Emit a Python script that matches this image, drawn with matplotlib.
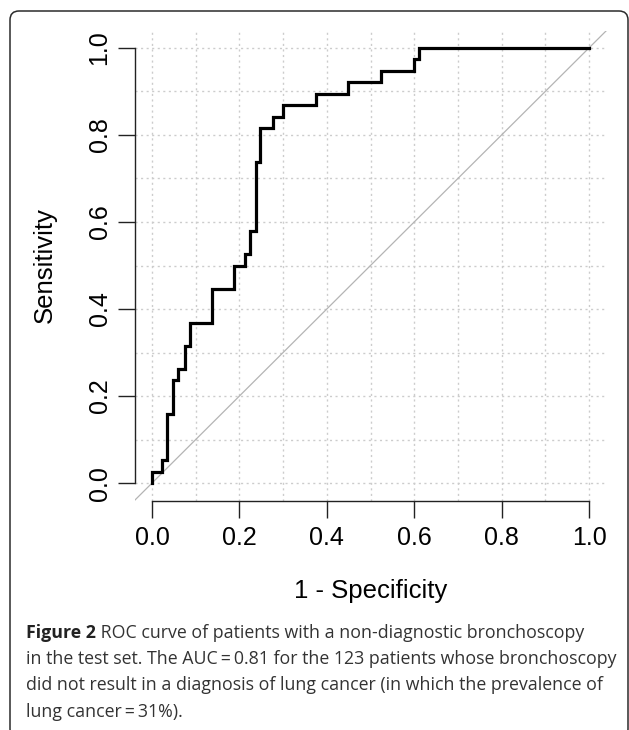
import matplotlib
matplotlib.use("Agg")
import matplotlib.pyplot as plt
from matplotlib.patches import FancyBboxPatch
from matplotlib.ticker import MultipleLocator

# ROC curve points (1 - specificity, sensitivity)
fpr = [0.0, 0.0, 0.0235, 0.0353, 0.047, 0.0588, 0.0755, 0.087, 0.137, 0.188,
       0.2128, 0.224, 0.238, 0.247, 0.276, 0.299, 0.375, 0.449, 0.524, 0.600,
       0.612, 1.0]
tpr = [0.0, 0.026, 0.053, 0.158, 0.237, 0.263, 0.316, 0.368, 0.447, 0.5,
       0.526, 0.579, 0.737, 0.816, 0.842, 0.868, 0.895, 0.921, 0.947, 0.974,
       1.0, 1.0]
ticks = [0.0, 0.2, 0.4, 0.6, 0.8, 1.0]
tick_labels = ["0.0", "0.2", "0.4", "0.6", "0.8", "1.0"]

caption_bold = "Figure 2"
caption_lines = [
    " ROC curve of patients with a non-diagnostic bronchoscopy",
    "in the test set. The AUC\u2009=\u20090.81 for the 123 patients whose bronchoscopy",
    "did not result in a diagnosis of lung cancer (in which the prevalence of",
    "lung cancer\u2009=\u200931%).",
]

W, H, DPI = 629, 730, 100
fig = plt.figure(figsize=(W / DPI, H / DPI), dpi=DPI)

# rounded frame around the whole figure
frame = FancyBboxPatch((10 / DPI, -8 / DPI), 618 / DPI, 727 / DPI,
                       boxstyle="round,pad=0,rounding_size=0.09",
                       transform=fig.dpi_scale_trans, fill=False,
                       edgecolor="#2b2b2b", linewidth=1.1)
fig.patches.append(frame)

ax = fig.add_axes([134.5 / W, (H - 500.5) / H, 472 / W, 470 / H])
ax.set_xlim(-0.04, 1.04)
ax.set_ylim(-0.04, 1.04)

ax.xaxis.set_minor_locator(MultipleLocator(0.1))
ax.yaxis.set_minor_locator(MultipleLocator(0.1))
ax.grid(which="both", color="#cccccc", linestyle=(0, (1.5, 2.5)), linewidth=1.0)
ax.set_axisbelow(True)

ax.axline((0, 0), (1, 1), color="#b4b4b4", linewidth=0.9, zorder=2)
ax.plot(fpr, tpr, drawstyle="steps-post", color="black", linewidth=2.3,
        solid_joinstyle="miter", zorder=3)

for side in ("top", "right"):
    ax.spines[side].set_visible(False)
for side in ("left", "bottom"):
    ax.spines[side].set_bounds(0, 1)
    ax.spines[side].set_linewidth(1.0)
    ax.spines[side].set_color("#222222")

font = "Liberation Sans"
ax.set_xticks(ticks)
ax.set_xticklabels(tick_labels, fontsize=18, family=font)
ax.set_yticks(ticks)
ax.set_yticklabels(tick_labels, fontsize=18, family=font, rotation=90, va="center")
ax.tick_params(which="major", length=12.5, width=1.0, color="#222222")
ax.tick_params(axis="x", pad=6)
ax.tick_params(axis="y", pad=4)
ax.tick_params(which="minor", length=0)

ax.set_xlabel("1 - Specificity", fontsize=18.5, family=font)
ax.xaxis.set_label_coords(0.5, -(591 - 500.5) / 470)
ax.xaxis.label.set_va("center")
ax.set_ylabel("Sensitivity", fontsize=18.5, family=font)
ax.yaxis.set_label_coords((45 - 134.5) / 472, 0.5)
ax.yaxis.label.set_va("center")

# caption, first word in bold; size chosen so the longest line spans ~588 px
cap_font = "Open Sans"
cap_color = "#333333"
line_y = [633, 659, 685, 712]
x_left, max_width = 26, 588
fig.canvas.draw()
renderer = fig.canvas.get_renderer()

probe = fig.text(0, 0, caption_lines[1], fontsize=10, family=cap_font)
cap_size = 10 * max_width / probe.get_window_extent(renderer).width
probe.remove()

t_bold = fig.text(x_left / W, 1 - line_y[0] / H, caption_bold, fontsize=cap_size,
                  family=cap_font, weight="bold", color="#222222", va="center")
bb = t_bold.get_window_extent(renderer)
fig.text(bb.x1 / W, 1 - line_y[0] / H, caption_lines[0], fontsize=cap_size,
         family=cap_font, color=cap_color, va="center")
for y, line in zip(line_y[1:], caption_lines[1:]):
    fig.text(x_left / W, 1 - y / H, line, fontsize=cap_size, family=cap_font,
             color=cap_color, va="center")

fig.savefig("out.png", dpi=DPI)
